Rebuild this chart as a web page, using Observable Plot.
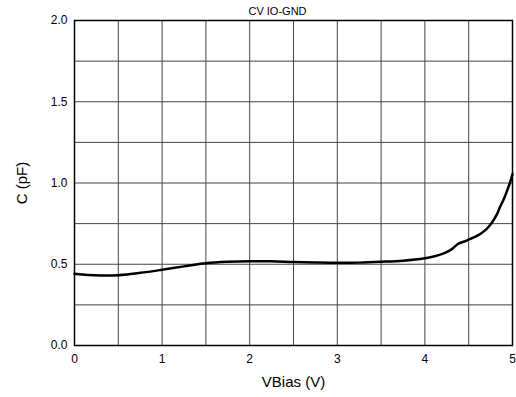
<!DOCTYPE html>
<html><head><meta charset="utf-8">
<script src="https://cdn.jsdelivr.net/npm/d3@7"></script>
<script src="https://cdn.jsdelivr.net/npm/@observablehq/plot@0.6"></script>
<style>body{margin:0;background:#fff;font-family:"Liberation Sans",Arial,sans-serif}</style>
</head><body><div id="chart"></div>
<script>
const title = "CV IO-GND";
const xLabel = "VBias (V)";
const yLabel = "C (pF)";
const vbias = [0, 0.15, 0.3, 0.5, 0.75, 1.0, 1.25, 1.5, 1.75, 2.0, 2.25, 2.5, 2.75, 3.0, 3.25, 3.5, 3.75, 4.0, 4.1, 4.2, 4.3, 4.38, 4.45, 4.5, 4.6, 4.7, 4.76, 4.82, 4.86, 4.9, 4.94, 4.97, 5.0];
const cap   = [0.441, 0.434, 0.431, 0.433, 0.447, 0.466, 0.487, 0.506, 0.515, 0.519, 0.518, 0.514, 0.511, 0.509, 0.510, 0.515, 0.522, 0.537, 0.548, 0.564, 0.590, 0.626, 0.640, 0.652, 0.676, 0.715, 0.752, 0.805, 0.855, 0.900, 0.955, 1.000, 1.055];
const xTicks = [0, 1, 2, 3, 4, 5];
const yTicks = [0, 0.5, 1.0, 1.5, 2.0];
const xGrid = d3.range(0, 5.01, 0.5);
const yGrid = d3.range(0, 2.01, 0.25);

const data = vbias.map((v, i) => ({v, c: cap[i]}));

const chart = Plot.plot({
  width: 516, height: 397,
  marginLeft: 74, marginRight: 4, marginTop: 20, marginBottom: 52,
  style: {fontFamily: '"Liberation Sans", Arial, sans-serif', fontSize: "12px", color: "#000", background: "#fff"},
  x: {domain: [0, 5]},
  y: {domain: [0, 2]},
  marks: [
    Plot.ruleX(xGrid, {stroke: "#444", strokeWidth: 1}),
    Plot.ruleY(yGrid, {stroke: "#444", strokeWidth: 1}),
    Plot.frame({stroke: "#000", strokeWidth: 1.5}),
    Plot.axisX(xTicks, {tickSize: 0, tickPadding: 9, tickFormat: d3.format("d"), label: null, fontSize: 12}),
    Plot.axisY(yTicks, {tickSize: 0, tickPadding: 7, tickFormat: d3.format(".1f"), label: null, fontSize: 12}),
    Plot.line(data, {x: "v", y: "c", curve: "catmull-rom", stroke: "#000", strokeWidth: 2.5}),
    Plot.text([title], {frameAnchor: "top", lineAnchor: "middle", dx: -16, dy: -9, fontSize: 11, fill: "#000"}),
    Plot.text([xLabel], {frameAnchor: "bottom", lineAnchor: "middle", dy: 37, fontSize: 15, fill: "#000"}),
    Plot.text([yLabel], {frameAnchor: "left", textAnchor: "middle", lineAnchor: "middle", dx: -52, rotate: -90, fontSize: 15, fill: "#000"})
  ]
});
document.getElementById("chart").appendChild(chart);
</script>
</body></html>
